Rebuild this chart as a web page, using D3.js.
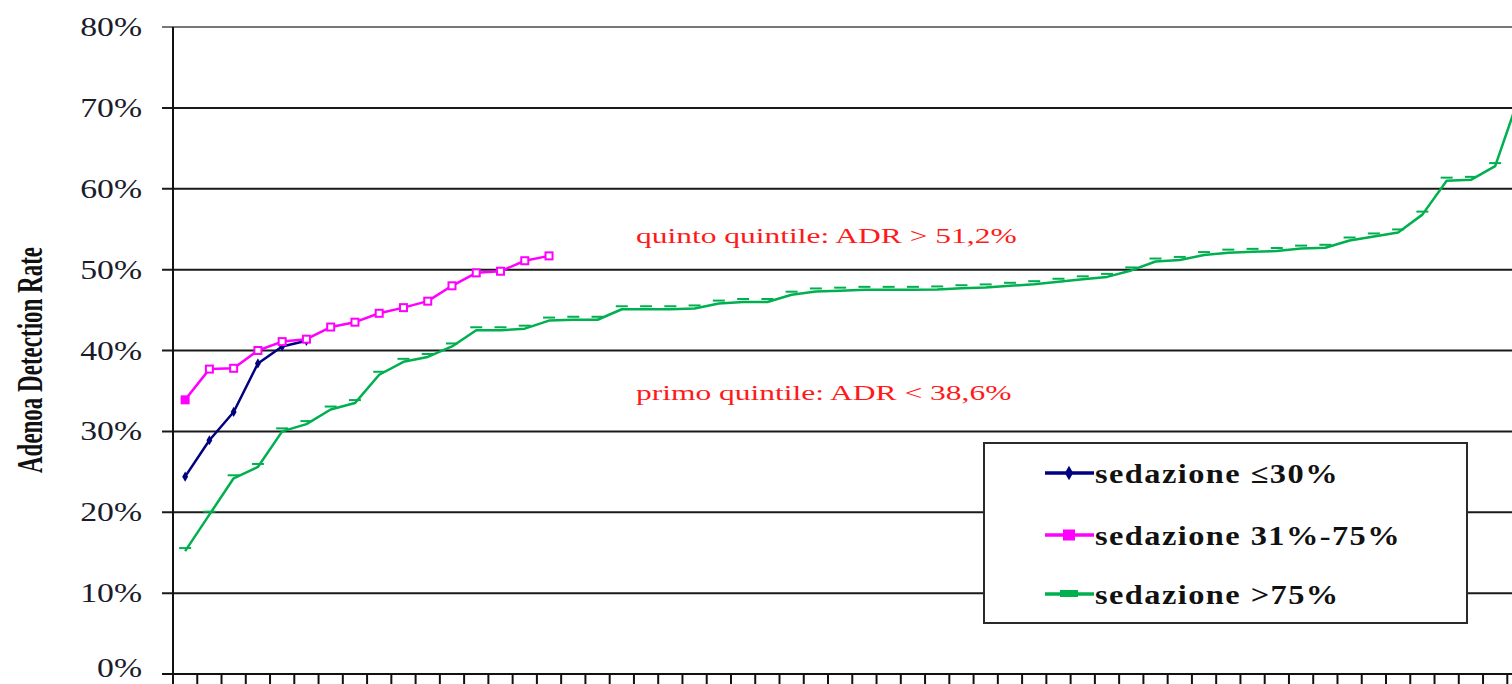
<!DOCTYPE html>
<html>
<head>
<meta charset="utf-8">
<script src="https://cdn.jsdelivr.net/npm/d3@7"></script>
<style>
  html, body { margin: 0; padding: 0; background: #fff; overflow: hidden; }
  svg { display: block; }
  text { font-family: "Liberation Serif", "Times New Roman", serif; }
</style>
</head>
<body>
<svg id="chart" width="1512" height="684"></svg>
<script>
// ---- data ----
const nCategories = 56;
const yTicks = [0, 10, 20, 30, 40, 50, 60, 70, 80];
const yTickLabels = ["0%", "10%", "20%", "30%", "40%", "50%", "60%", "70%", "80%"];
const seriesNames = ["sedazione \u226430%", "sedazione 31%-75%", "sedazione >75%"];
const sedLow = [24.4, 28.9, 32.4, 38.4, 40.5, 41.2];
const sedMid = [33.9, 37.7, 37.8, 40.0, 41.1, 41.4, 42.9, 43.5, 44.6, 45.3, 46.1, 48.0, 49.6, 49.8, 51.1, 51.7];
const sedHigh = [15.2, 19.7, 24.2, 25.6, 30.0, 30.9, 32.7, 33.5, 37.0, 38.6,
                 39.2, 40.5, 42.5, 42.5, 42.7, 43.7, 43.8, 43.8, 45.1, 45.1,
                 45.1, 45.2, 45.8, 46.0, 46.0, 46.9, 47.3, 47.4, 47.5, 47.5,
                 47.5, 47.55, 47.7, 47.8, 48.0, 48.2, 48.5, 48.8, 49.1, 49.9,
                 51.0, 51.2, 51.8, 52.1, 52.2, 52.3, 52.6, 52.7, 53.6, 54.1,
                 54.6, 56.8, 61.0, 61.1, 62.8, 71.5];
const annotations = ["quinto quintile: ADR > 51,2%", "primo quintile: ADR < 38,6%"];
const yTitle = "Adenoa Detection Rate";
const colors = ["#000080", "#ff00ff", "#00b050"];

// ---- layout ----
const svg = d3.select("#chart");
const x = d3.scaleLinear().domain([0, nCategories]).range([173, 173 + nCategories * 24.26]);
const y = d3.scaleLinear().domain([0, 80]).range([674, 27]);

function label(g, px, py, str, o) {
  return g.append("text")
    .attr("transform", `translate(${px},${py}) scale(${o.sx || 1},1)` + (o.rot ? ` rotate(${o.rot})` : ""))
    .attr("text-anchor", o.anchor || "start")
    .attr("font-size", o.size)
    .attr("font-weight", o.weight || "normal")
    .attr("letter-spacing", o.ls || 0)
    .attr("fill", o.fill || "#111")
    .text(str);
}

// gridlines
svg.append("g").selectAll("line").data(yTicks.filter(d => d > 0)).join("line")
  .attr("x1", 162).attr("x2", 1512)
  .attr("y1", d => y(d)).attr("y2", d => y(d))
  .attr("stroke", d => d === 80 ? "#777" : "#1a1a1a")
  .attr("stroke-width", 2);

// y axis line & ticks
svg.append("line").attr("x1", x(0)).attr("x2", x(0)).attr("y1", y(80)).attr("y2", 684)
  .attr("stroke", "#111").attr("stroke-width", 2);
svg.append("line").attr("x1", 162).attr("x2", 1512).attr("y1", y(0)).attr("y2", y(0))
  .attr("stroke", "#111").attr("stroke-width", 2);
// x ticks at category boundaries
svg.append("g").selectAll("line").data(d3.range(0, nCategories + 1)).join("line")
  .attr("x1", d => x(d)).attr("x2", d => x(d))
  .attr("y1", y(0)).attr("y2", 684)
  .attr("stroke", "#111").attr("stroke-width", 2);

// y tick labels
const yl = svg.append("g");
yTicks.forEach((t, i) => label(yl, 142, Math.min(y(t) + 9, 677), yTickLabels[i], {anchor: "end", size: 27, sx: 1.25, fill: "#1b1b2a"}));

// y title
label(svg, 42, 360, yTitle, {anchor: "middle", size: 23, sx: 1.55, rot: -90, weight: "bold"});

// lines
const line = d3.line().x((d, i) => x(i + 0.5)).y(d => y(d));
const series = [sedLow, sedMid, sedHigh];
series.forEach((s, k) => {
  svg.append("path").datum(s).attr("d", line)
    .attr("fill", "none").attr("stroke", colors[k]).attr("stroke-width", 2.5)
    .attr("stroke-linejoin", "round");
});
// markers
svg.append("g").selectAll("path").data(sedLow).join("path")
  .attr("d", d3.symbol(d3.symbolDiamond, 30))
  .attr("transform", (d, i) => `translate(${x(i + 0.5)},${y(d)})`)
  .attr("fill", colors[0]);
svg.append("g").selectAll("rect").data(sedMid).join("rect")
  .attr("x", (d, i) => x(i + 0.5) - 3.5).attr("y", d => y(d) - 3.5)
  .attr("width", 7).attr("height", 7)
  .attr("fill", (d, i) => (i === 0 ? colors[1] : "#fff")).attr("stroke", colors[1]).attr("stroke-width", 2);
svg.append("g").selectAll("line").data(sedHigh.slice(0, -1)).join("line")
  .attr("x1", (d, i) => x(i + 0.5) - 6).attr("x2", (d, i) => x(i + 0.5) + 6)
  .attr("y1", d => y(d) - 3).attr("y2", d => y(d) - 3)
  .attr("stroke", colors[2]).attr("stroke-width", 2);

// annotations
label(svg, 636, 243, annotations[0], {size: 21, sx: 1.5, fill: "#ff1a1a"});
label(svg, 636, 400, annotations[1], {size: 21, sx: 1.5, fill: "#ff1a1a"});

// legend
const lg = svg.append("g");
lg.append("rect").attr("x", 984).attr("y", 443).attr("width", 483).attr("height", 180)
  .attr("fill", "#fff").attr("stroke", "#2a2a2a").attr("stroke-width", 2);
const legY = [473, 535, 594];
seriesNames.forEach((name, k) => {
  const cy = legY[k];
  lg.append("line").attr("x1", 1045).attr("x2", 1094).attr("y1", cy).attr("y2", cy)
    .attr("stroke", colors[k]).attr("stroke-width", 3.5);
  if (k === 0) {
    lg.append("path").attr("d", d3.symbol(d3.symbolDiamond, 60)).attr("transform", `translate(1069,${cy})`).attr("fill", colors[0]);
  } else if (k === 1) {
    lg.append("rect").attr("x", 1063).attr("y", cy - 5.5).attr("width", 12).attr("height", 11).attr("fill", colors[1]);
  } else {
    lg.append("rect").attr("x", 1060).attr("y", cy - 4).attr("width", 18).attr("height", 7).attr("fill", colors[2]);
  }
  label(lg, 1095, cy + 10, name, {size: 27, sx: 1.2, weight: "bold", ls: 1.2, fill: "#111"});
});
</script>
</body>
</html>
